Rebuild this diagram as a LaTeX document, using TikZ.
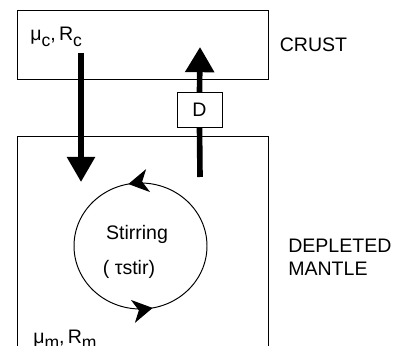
\documentclass[tikz,border=0pt]{standalone}
\usepackage{fontspec}
\setmainfont{Liberation Sans}
\usetikzlibrary{positioning,calc,arrows.meta,decorations.markings}
\newcommand\lbl{\fontsize{13.9}{16.3}\selectfont}
\newcommand\lowsub[1]{\raisebox{-0.3em}{\fontsize{12.5}{12.5}\selectfont #1}}

\begin{document}
\begin{tikzpicture}[
        x=0.025cm, y=-0.025cm,
        font=\lbl,
        layer/.style={draw, rectangle, line width=0.7pt, minimum width=6.25cm, inner sep=0},
        txt/.style={inner sep=0, anchor=base west},
        flux/.style={line width=4pt},
        spin/.style={line width=0.7pt, postaction={decorate}, decoration={markings,
            mark=at position 0.28 with {\arrow{Stealth[length=0.5cm,width=0.58cm,inset=0.15cm]}},
            mark=at position 0.78 with {\arrow{Stealth[length=0.5cm,width=0.58cm,inset=0.15cm]}}}}
    ]
    \clip (0,0) rectangle (400,346);
    \node[layer, minimum height=1.7cm] (crust) at (143,45) {};
    \node[layer, minimum height=5.625cm] (mantle) at (143,249.5) {};
    \node[right=0.275cm of crust, inner sep=0] (crustlab) {CRUST};
    \node[inner sep=0, anchor=north west, align=left] (mantlelab) at (288,239) {DEPLETED\\MANTLE};

    \node[txt] (crustmu) at (30,41) {μ\lowsub{c},\,R\lowsub{c}};
    \node[txt] (mantlemu) at (33,343) {μ\lowsub{m},\,R\lowsub{m}};

    % recycling into the mantle
    \coordinate (drop) at (81,53);
    \coordinate (sink) at (81,182);
    \draw[flux, -{Triangle[width=0.68cm,length=0.63cm]}] (drop) -- (sink);

    % extraction through D
    \node[draw, fill=white, line width=0.7pt, minimum width=1.125cm, minimum height=0.85cm, inner sep=0] (D) at (199.5,110) {D};
    \coordinate (rise) at (200,177);
    \coordinate (lift) at (200,47);
    \draw[flux] (rise) -- (D.south);
    \draw[flux, -{Triangle[width=0.7cm,length=0.63cm]}] (D.north) -- (lift);

    % stirring loop
    \coordinate (mix) at (140.5,246);
    \draw[spin] (mix) ++(66.5,0) arc[start angle=0, end angle=-360, x radius=66.5, y radius=63];
    \node[anchor=base] (stirlab) at (137,240) {Stirring};
    \node[anchor=base] (taulab) at (129,275) {( τstir)};
\end{tikzpicture}
\end{document}
